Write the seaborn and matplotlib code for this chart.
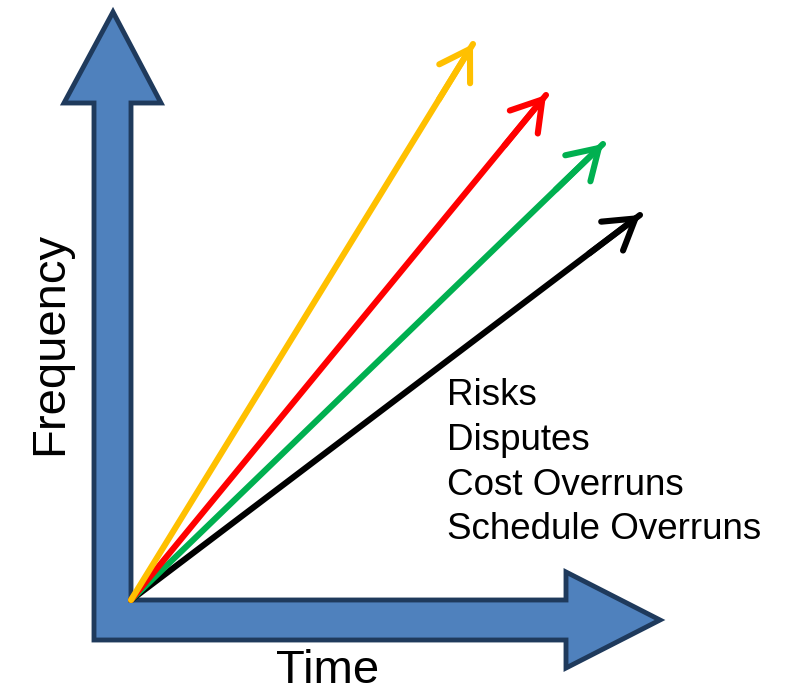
import matplotlib
matplotlib.use("Agg")
import matplotlib.pyplot as plt
from matplotlib.patches import Polygon
import numpy as np
import pandas as pd
import seaborn as sns

# Growth lines (all start at the origin of the time/frequency axes)
series = ["Risks", "Disputes", "Cost Overruns", "Schedule Overruns"]
colors = ["#FFC000", "#FF0000", "#00B050", "#000000"]
end_x = [342, 415, 472, 509]
end_y = [556, 505, 456, 385]

# Big L-shaped axis arrow outline
axis_x = [-37, -37, -67, -18, 30, 0, 0, 435, 435, 529, 435, 435]
axis_y = [-40, 497, 497, 588, 497, 497, 0, 0, 28, -20, -68, -40]

legend_labels = ["Risks", "Disputes", "Cost Overruns", "Schedule Overruns"]
legend_y = [195, 150, 105, 61]

sns.set_theme(style="white")
plt.rcParams["font.family"] = ["Liberation Sans", "DejaVu Sans"]

fig = plt.figure(figsize=(7.87, 6.93), dpi=100)
ax = fig.add_axes([0, 0, 1, 1])
ax.set_xlim(-131, 656)
ax.set_ylim(-93, 600)
ax.axis("off")

ax.add_patch(Polygon(np.column_stack([axis_x, axis_y]), closed=True,
                     facecolor="#4F81BD", edgecolor="#1F3A5C",
                     linewidth=3.5, joinstyle="miter", zorder=1))

rows = []
for name, ex, ey in zip(series, end_x, end_y):
    rows.append({"series": name, "t": 0.0, "x": 0.0, "y": 0.0})
    rows.append({"series": name, "t": 1.0, "x": ex, "y": ey})
df = pd.DataFrame(rows)

draw_order = ["Schedule Overruns", "Cost Overruns", "Disputes", "Risks"]
for z, name in enumerate(draw_order):
    sub = df[df["series"] == name]
    col = colors[series.index(name)]
    sns.lineplot(data=sub, x="x", y="y", sort=False, estimator=None,
                 color=col, linewidth=4.4, ax=ax, zorder=3 + z,
                 solid_capstyle="round", legend=False)
    ex, ey = sub["x"].iloc[1], sub["y"].iloc[1]
    ax.annotate("", xy=(ex, ey), xytext=(ex * 0.9, ey * 0.9),
                arrowprops=dict(arrowstyle="->,head_length=1.0,head_width=0.62",
                                color=col, lw=4.4, shrinkA=0, shrinkB=0,
                                mutation_scale=21, capstyle="round",
                                joinstyle="round"),
                zorder=3 + z)

for lab, yy in zip(legend_labels, legend_y):
    ax.text(316, yy, lab, fontsize=26.5, color="black",
            ha="left", va="baseline")

ax.text(-81, 257, "Frequency", fontsize=34, rotation=90,
        ha="center", va="center", color="black")
ax.text(197, -71, "Time", fontsize=34, ha="center", va="center",
        color="black")

fig.savefig("out.png", dpi=100, facecolor="white")
